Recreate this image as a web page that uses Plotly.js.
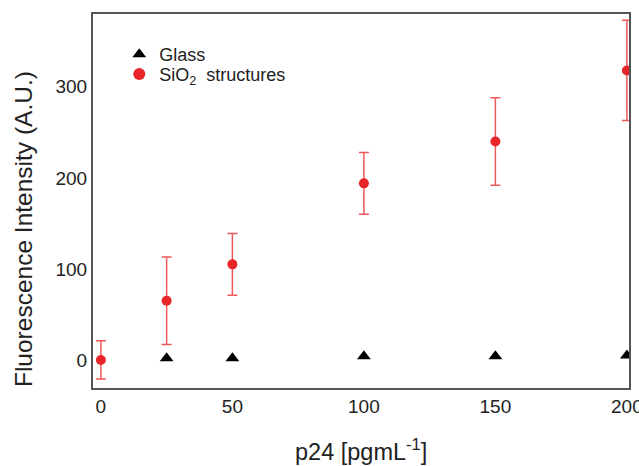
<!DOCTYPE html>
<html><head><meta charset="utf-8">
<script src="https://cdn.plot.ly/plotly-3.0.1.min.js"></script>
<style>body{margin:0;padding:0;background:#fff}#chart{width:639px;height:466px}</style>
</head><body><div id="chart"></div>
<script>
const glassX = [25, 50, 100, 150, 200];
const glassY = [2, 2, 4, 4, 5];
const sioX = [0, 25, 50, 100, 150, 200];
const sioY = [0, 65, 105, 194, 240, 318];
const sioErr = [21, 48, 34, 34, 48, 55];
const xTicks = [0, 50, 100, 150, 200];
const yTicks = [0, 100, 200, 300];
const xTitle = 'p24 [pgmL<sup>-1</sup>]';
const yTitle = 'Fluorescence Intensity (A.U.)';

const traces = [
  {x: glassX, y: glassY, type: 'scatter', mode: 'markers', name: 'Glass', legend: 'legend',
   marker: {symbol: 'triangle-up', size: 12, color: '#000'}},
  {x: sioX, y: sioY, type: 'scatter', mode: 'markers', name: 'SiO<sub>2</sub>  structures', legend: 'legend2',
   marker: {symbol: 'circle', size: 10, color: '#e8262a'},
   error_y: {type: 'data', array: sioErr, visible: true, color: '#ee5a5a', thickness: 1.5, width: 5}}
];
const legendBase = {xanchor: 'left', yanchor: 'top', bgcolor: 'rgba(0,0,0,0)',
  font: {size: 18, color: '#222'}, itemsizing: 'constant'};
const layout = {
  width: 639, height: 466,
  margin: {l: 93, r: 10, t: 14, b: 78},
  paper_bgcolor: '#fff', plot_bgcolor: '#fff',
  font: {family: 'Liberation Sans, Arial, sans-serif', color: '#222', size: 18},
  showlegend: true,
  legend: Object.assign({x: 0.049, y: 0.941}, legendBase),
  legend2: Object.assign({x: 0.049, y: 0.888}, legendBase),
  xaxis: {range: [-3, 200.8], tickvals: xTicks, ticktext: xTicks.map(String),
          showgrid: false, zeroline: false, showline: true, mirror: true, linecolor: '#555', linewidth: 2,
          ticks: '', ticklen: 0, tickfont: {size: 19}, ticklabeloverflow: 'allow'},
  yaxis: {range: [-30.8, 380], tickvals: yTicks, ticktext: yTicks.map(String),
          showgrid: false, zeroline: false, showline: true, mirror: true, linecolor: '#555', linewidth: 2,
          ticks: '', ticklen: 0, tickfont: {size: 19}},
  annotations: [
    {text: xTitle, xref: 'paper', yref: 'paper', x: 0.5, y: -0.166, xanchor: 'center', yanchor: 'middle',
     showarrow: false, font: {size: 23.5, color: '#222'}},
    {text: yTitle, xref: 'paper', yref: 'paper', x: -0.1306, y: 0.425, xanchor: 'center', yanchor: 'middle',
     textangle: -90, showarrow: false, font: {size: 24.5, color: '#222'}}
  ]
};
Plotly.newPlot('chart', traces, layout, {displayModeBar: false, staticPlot: true});
</script></body></html>
